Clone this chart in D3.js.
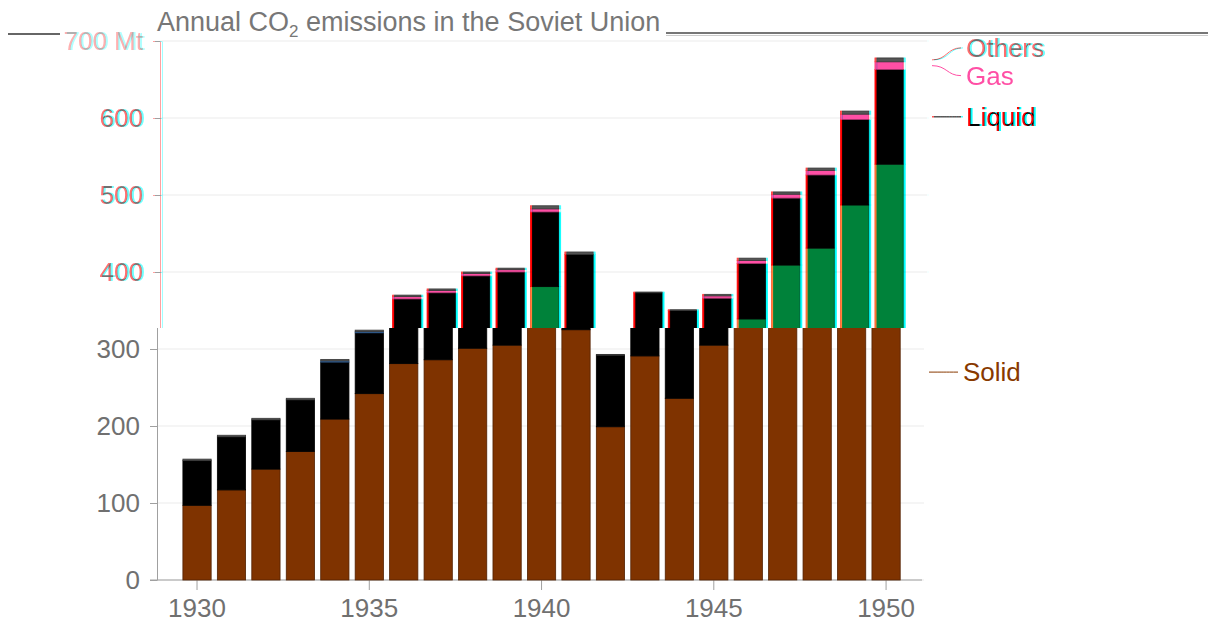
<!DOCTYPE html>
<html>
<head>
<meta charset="utf-8">
<script src="https://cdn.jsdelivr.net/npm/d3@7"></script>
<style>
  body { margin: 0; background: #fff; }
  svg { display: block; font-family: "Liberation Sans", Arial, sans-serif; }
</style>
</head>
<body>
<svg id="chart" width="1208" height="624"></svg>
<script>
// data (Mt CO2)
var years  = [1930,1931,1932,1933,1934,1935,1936,1937,1938,1939,1940,1941,1942,1943,1944,1945,1946,1947,1948,1949,1950];
var solid  = [97,117,144,167,209,242,281,286,301,305,381,325,199,291,236,305,339,409,431,487,540];
var liquid = [58,69,64,67,74,79,84,87,94,95,97,98,93,82,114,61,72,87,95,111,123];
var gas    = [0,0,0,0,1.5,1.5,3,3,3,3,4,0,0,0,0,3,4,5,6,7,10];
var others = [2,2,2,2,2,2,2,2,2,2,4,3,1,1,1,2,3,3,3,4,5];
var seriesNames = ["Solid","Liquid","Gas","Others"];
var yTicks = [0,100,200,300,400,500,600,700];
var xTicks = [1930,1935,1940,1945,1950];

var svg = d3.select("#chart");
var split = 328;   // the picture is torn here: the upper part is shifted

var x = d3.scaleBand()
    .domain(years)
    .range([179.8, 903.3])
    .paddingInner(0.18)
    .paddingOuter(0.09);
var y = d3.scaleLinear().domain([0, 700]).range([580, 41]);

var rows = years.map(function(yr, i) {
  return {year: yr, Solid: solid[i], Liquid: liquid[i], Gas: gas[i], Others: others[i]};
});
var stacked = d3.stack().keys(seriesNames)(rows);

var labelColor = {Solid: "#883900", Liquid: "#000", Gas: "#ff4fa5", Others: "#6d6d6d"};
var dodge = {Solid: 0, Liquid: 0, Gas: 10, Others: -12};

// filter for the red / cyan fringe in the upper part
var defs = svg.append("defs");
var f = defs.append("filter").attr("id", "rgb")
    .attr("filterUnits", "userSpaceOnUse")
    .attr("x", 0).attr("y", 30).attr("width", 1208).attr("height", split - 30)
    .attr("color-interpolation-filters", "sRGB");
f.append("feOffset").attr("in", "SourceGraphic").attr("dx", 1).attr("result", "ro");
f.append("feColorMatrix").attr("in", "ro").attr("type", "matrix")
    .attr("values", "1 0 0 0 0  0 0 0 0 0  0 0 0 0 0  0 0 0 1 0").attr("result", "r");
f.append("feOffset").attr("in", "SourceGraphic").attr("dx", -1).attr("result", "go");
f.append("feColorMatrix").attr("in", "go").attr("type", "matrix")
    .attr("values", "0 0 0 0 0  0 1 0 0 0  0 0 1 0 0  0 0 0 1 0").attr("result", "gb");
f.append("feComposite").attr("in", "r").attr("in2", "gb")
    .attr("operator", "arithmetic").attr("k1", 0).attr("k2", 1).attr("k3", 1).attr("k4", 0);

defs.append("clipPath").attr("id", "clipTop")
  .append("rect").attr("x", -10).attr("y", 30).attr("width", 1220).attr("height", split - 30);
defs.append("clipPath").attr("id", "clipBottom")
  .append("rect").attr("x", 0).attr("y", split).attr("width", 1208).attr("height", 624 - split);

// part is "top" or "bottom": texts are only kept on their own side of the tear
function drawChart(g, colors, part) {
  function keep(py) { return part === "top" ? py < split : py >= split; }

  g.selectAll("line.grid")
      .data(yTicks)
    .enter().append("line")
      .attr("class", "grid")
      .attr("x1", 157).attr("x2", 924)
      .attr("y1", function(d) { return y(d); })
      .attr("y2", function(d) { return y(d); })
      .attr("stroke", "#ebebeb");

  var yAxis = g.append("g")
      .attr("transform", "translate(157,0)")
      .call(d3.axisLeft(y).tickValues(yTicks).tickSize(7).tickSizeOuter(0).tickPadding(10)
        .tickFormat(function(d) { return d === 700 ? "700 Mt" : d; }));
  yAxis.select(".domain").attr("stroke", "#a0a0a0");
  yAxis.selectAll(".tick line").attr("stroke", "#a0a0a0");
  yAxis.selectAll(".tick text")
      .filter(function(d) { return !keep(y(d)); }).remove();
  yAxis.selectAll(".tick text")
      .attr("fill", "#707070")
      .style("font-size", "26px")
      .style("font-family", "Liberation Sans, Arial, sans-serif")
      .attr("opacity", function(d) { return d === 700 ? 0.55 : 1; });

  var xAxis = g.append("g")
      .attr("transform", "translate(0,580)")
      .call(d3.axisBottom(x).tickValues(xTicks).tickSize(10).tickSizeOuter(0).tickPadding(9));
  xAxis.select(".domain").remove();
  xAxis.selectAll(".tick line").attr("stroke", "#a0a0a0");
  if (part === "top") xAxis.selectAll(".tick text").remove();
  xAxis.selectAll(".tick text")
      .attr("fill", "#707070")
      .style("font-size", "26px")
      .style("font-family", "Liberation Sans, Arial, sans-serif");
  g.append("line")
      .attr("x1", 150).attr("x2", 922).attr("y1", 580).attr("y2", 580)
      .attr("stroke", "#a0a0a0");

  g.selectAll("g.series")
      .data(stacked)
    .enter().append("g")
      .attr("class", "series")
      .attr("fill", function(s) { return colors[s.key]; })
      .attr("stroke", function(s) { return d3.color(colors[s.key]).darker(1.2); })
      .attr("stroke-width", 0.8)
    .selectAll("rect")
      .data(function(s) { return s.filter(function(d) { return d[1] - d[0] > 0; }); })
    .enter().append("rect")
      .attr("x", function(d) { return x(d.data.year); })
      .attr("width", x.bandwidth())
      .attr("y", function(d) { return y(d[1]); })
      .attr("height", function(d) { return y(d[0]) - y(d[1]); });

  // end labels
  var last = years.length - 1;
  stacked.forEach(function(s) {
    var y0 = y((s[last][0] + s[last][1]) / 2);
    var ly = y0 + dodge[s.key];
    if (!keep(ly)) return;
    g.append("path")
        .attr("d", "M929," + y0 + "C944," + y0 + " 944," + ly + " 958," + ly)
        .attr("fill", "none")
        .attr("stroke", labelColor[s.key])
        .attr("stroke-width", 1);
    g.append("text")
        .attr("x", 963).attr("y", ly).attr("dy", "0.35em")
        .attr("fill", labelColor[s.key])
        .style("font-size", "26px")
        .text(s.key);
  });
}

// lower part, as drawn
var bottomG = svg.append("g").attr("clip-path", "url(#clipBottom)");
drawChart(bottomG, {Solid: "#7f3300", Liquid: "#000000", Gas: "#3a78c0", Others: "#555555"}, "bottom");

// upper part: shifted right, other colours, colour fringes
var topWrap = svg.append("g").attr("filter", "url(#rgb)");
topWrap.append("rect").attr("x", -10).attr("y", 30).attr("width", 1230).attr("height", split - 30).attr("fill", "#fff");
var topG = topWrap.append("g").attr("clip-path", "url(#clipTop)")
  .append("g").attr("transform", "translate(4,0)");
drawChart(topG, {Solid: "#00823a", Liquid: "#000000", Gas: "#ff4fa5", Others: "#555555"}, "top");

// title and the stray rules next to it
var title = svg.append("text")
    .attr("x", 157).attr("y", 31)
    .attr("fill", "#777")
    .style("font-size", "27px");
title.append("tspan").text("Annual CO");
title.append("tspan").attr("dy", 6).style("font-size", "17px").text("2");
title.append("tspan").attr("dy", -6).text(" emissions in the Soviet Union");

svg.append("line").attr("x1", 8).attr("x2", 60).attr("y1", 34).attr("y2", 34)
    .attr("stroke", "#666").attr("stroke-width", 2);
svg.append("line").attr("x1", 666).attr("x2", 1208).attr("y1", 33).attr("y2", 33)
    .attr("stroke", "#777").attr("stroke-width", 2);
svg.append("line").attr("x1", 666).attr("x2", 1208).attr("y1", 35.5).attr("y2", 35.5)
    .attr("stroke", "#ccc").attr("stroke-width", 1);
</script>
</body>
</html>
